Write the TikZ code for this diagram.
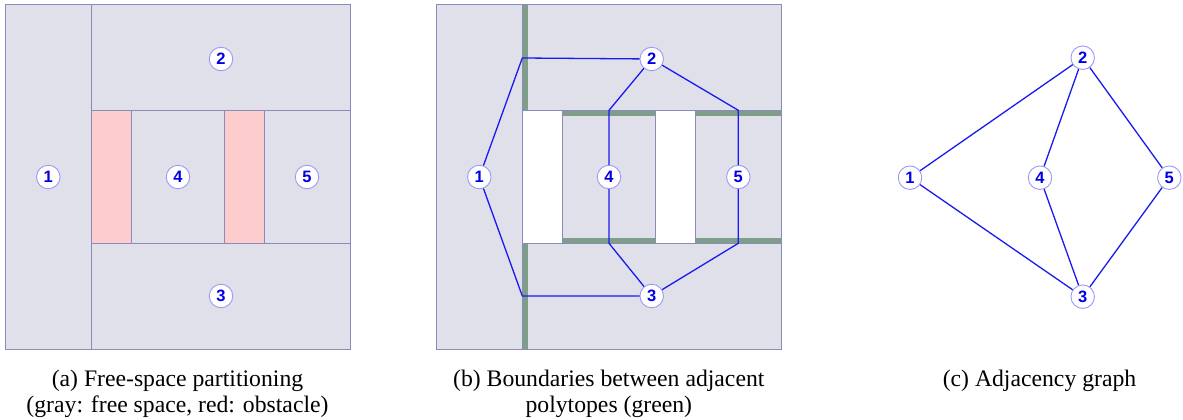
\documentclass[tikz,border=0pt]{standalone}
\usepackage{fontspec}
\setmainfont{Liberation Serif}
\newfontfamily\lblfont{Liberation Sans}
\definecolor{freegray}{HTML}{E0E0EA}
\definecolor{regborder}{HTML}{8A8ABB}
\definecolor{obsred}{HTML}{FDCDCD}
\definecolor{bndgreen}{HTML}{7F9E88}
\definecolor{edgeblue}{HTML}{1A1AF0}
\definecolor{circborder}{HTML}{9A9AF5}
\tikzset{
  region/.style={fill=freegray, draw=regborder, line width=0.9pt},
  obstacle/.style={fill=obsred, draw=regborder, line width=0.9pt},
  hole/.style={fill=white, draw=regborder, line width=0.9pt},
  bnd/.style={fill=bndgreen, draw=none},
  vtx/.style={circle, fill=white, draw=circborder, line width=0.9pt, minimum size=23.5pt, inner sep=0pt, text=blue!90!black, font=\lblfont\bfseries\fontsize{16.5}{16.5}\selectfont},
  edge/.style={draw=edgeblue, line width=1.3pt},
  captext/.style={align=center, font=\fontsize{23.7}{25.6}\selectfont, inner sep=0pt}
}
\begin{document}
\begin{tikzpicture}[x=1pt,y=-1pt]
\useasboundingbox (0,0) rectangle (1183,420);
% ---------- panel (a)
\draw[region] (5.3,4.3) rectangle (91.3,349);
\draw[region] (91.3,4.3) rectangle (350.5,110.3);
\draw[region] (91.3,243.3) rectangle (350.5,349);
\draw[region] (131.3,110.3) rectangle (224.3,243.3);
\draw[region] (264.3,110.3) rectangle (350.5,243.3);
\draw[obstacle] (91.3,110.3) rectangle (131.3,243.3);
\draw[obstacle] (224.3,110.3) rectangle (264.3,243.3);
\node[vtx] (a1) at (48.3,177) {1};
\node[vtx] (a2) at (221,59) {2};
\node[vtx] (a3) at (221,296) {3};
\node[vtx] (a4) at (178,177) {4};
\node[vtx] (a5) at (307,177) {5};
% ---------- panel (b)
\fill[freegray] (436.3,4.3) rectangle (781.3,349);
\fill[bnd] (522.3,4.3) rectangle (527.7,110.3);
\fill[bnd] (522.3,243.3) rectangle (527.7,349);
\fill[bnd] (562.3,110.3) rectangle (655.7,115.7);
\fill[bnd] (695.3,110.3) rectangle (781.3,115.7);
\fill[bnd] (562.3,238) rectangle (655.7,243.3);
\fill[bnd] (695.3,238) rectangle (781.3,243.3);
\draw[regborder, line width=0.9pt] (436.3,4.3) rectangle (781.3,349);
\draw[regborder, line width=0.9pt] (522.3,4.3) -- (522.3,349);
\draw[regborder, line width=0.9pt] (522.3,110.3) -- (781.3,110.3);
\draw[regborder, line width=0.9pt] (522.3,243.3) -- (781.3,243.3);
\draw[hole] (522.3,110.3) rectangle (562.3,243.3);
\draw[hole] (655.7,110.3) rectangle (695.3,243.3);
\coordinate (c12) at (522.3,58);
\coordinate (c13) at (522.3,296);
\coordinate (c24) at (609,110.3);
\coordinate (c25) at (738.3,110.3);
\coordinate (c34) at (609,243.3);
\coordinate (c35) at (738.3,243.3);
\node[vtx] (b1) at (479.3,177) {1};
\node[vtx] (b2) at (651.7,59) {2};
\node[vtx] (b3) at (651.7,296) {3};
\node[vtx] (b4) at (609,177) {4};
\node[vtx] (b5) at (738.3,177) {5};
\draw[edge] (b1) -- (c12) -- (b2);
\draw[edge] (b1) -- (c13) -- (b3);
\draw[edge] (b2) -- (c24) -- (b4);
\draw[edge] (b2) -- (c25) -- (b5);
\draw[edge] (b3) -- (c34) -- (b4);
\draw[edge] (b3) -- (c35) -- (b5);
% ---------- panel (c)
\node[vtx] (g1) at (910,177.7) {1};
\node[vtx] (g2) at (1082.7,57.7) {2};
\node[vtx] (g3) at (1082.7,296.7) {3};
\node[vtx] (g4) at (1040,177.7) {4};
\node[vtx] (g5) at (1169.3,177.7) {5};
\draw[edge] (g1) -- (g2);
\draw[edge] (g1) -- (g3);
\draw[edge] (g2) -- (g4);
\draw[edge] (g2) -- (g5);
\draw[edge] (g4) -- (g3);
\draw[edge] (g5) -- (g3);
% ---------- captions
\node[captext, anchor=base] (capa) at (177.5,412) {(a) Free-space partitioning\\(gray: free space, red: obstacle)};
\node[captext, anchor=base] (capb) at (608.8,412) {(b) Boundaries between adjacent\\polytopes (green)};
\node[captext, anchor=base] (capc) at (1039.5,386.5) {(c) Adjacency graph};
\end{tikzpicture}
\end{document}
